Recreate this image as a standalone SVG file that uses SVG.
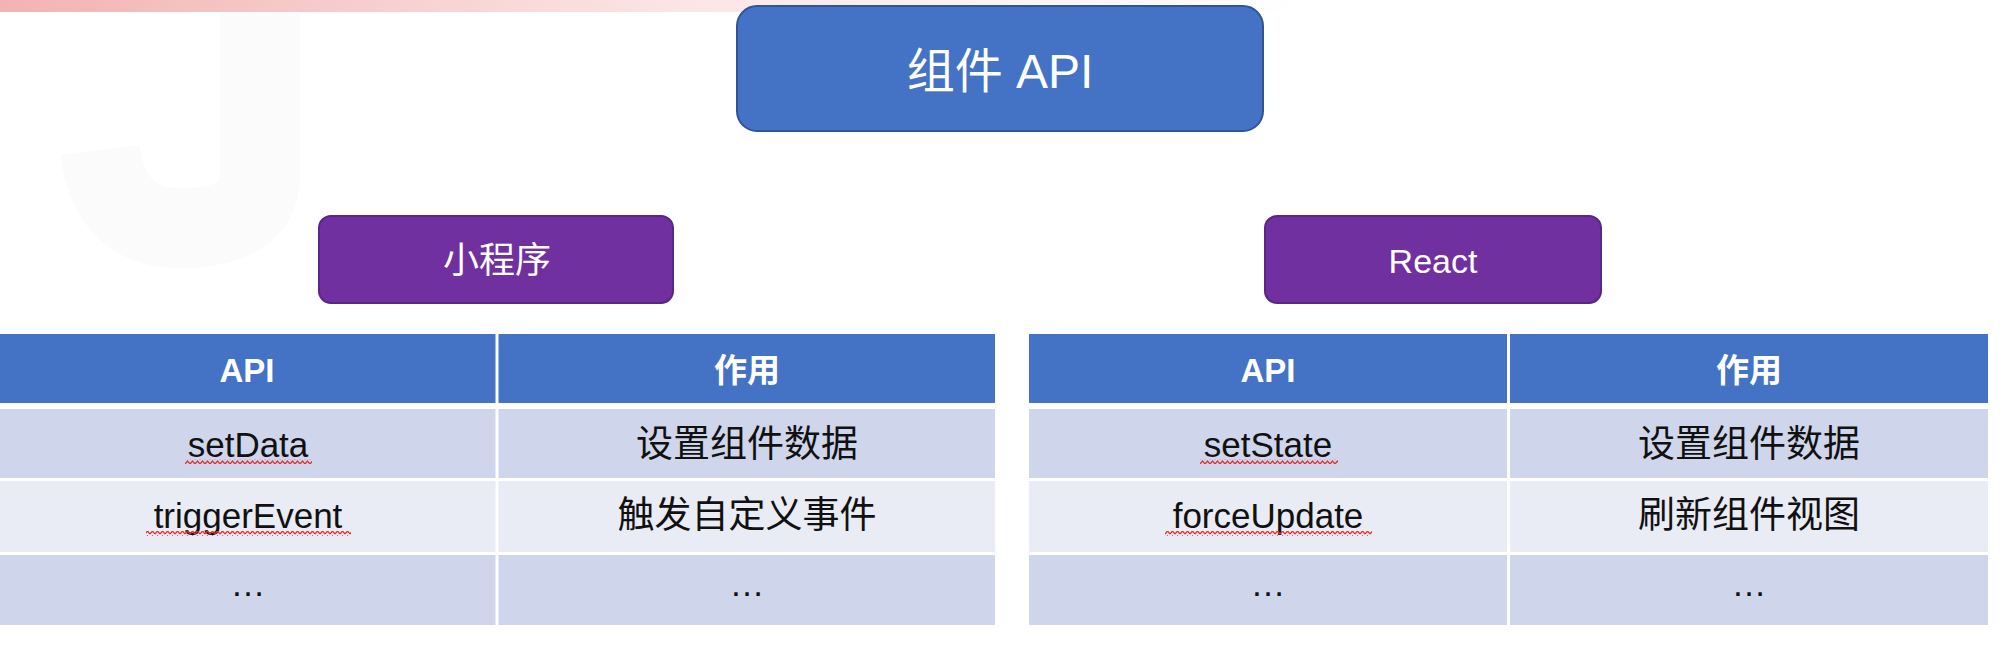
<svg xmlns="http://www.w3.org/2000/svg" width="2010" height="654" viewBox="0 0 2010 654">
<style>
.t{font-family:"Liberation Sans","Noto Sans CJK SC",sans-serif;text-anchor:middle}
.w{fill:#ffffff}
.k{fill:#111111}
.hd{font-size:33px;font-weight:bold;fill:#ffffff}
.lat{font-size:35px}
.cjk{font-size:37px}
.hdr{fill:#4472C4}
.r1{fill:#CFD5EA}
.r2{fill:#E9EBF5}
.sep{fill:#ffffff}
</style>
<defs>
<linearGradient id="band" x1="0" y1="0" x2="1" y2="0">
<stop offset="0" stop-color="#F2B3B3"/>
<stop offset="0.5" stop-color="#FBE3E3"/>
<stop offset="1" stop-color="#ffffff"/>
</linearGradient>
<pattern id="squiggle" width="5" height="5" patternUnits="userSpaceOnUse">
<path d="M0 4 L2.5 1 L5 4" fill="none" stroke="#E03030" stroke-width="1.2"/>
</pattern>
</defs>
<rect width="2010" height="654" fill="#ffffff"/>
<rect x="0" y="0" width="1300" height="12" fill="url(#band)"/>
<path d="M260 14 V175 Q260 228 180 228 Q110 228 100 150" fill="none" stroke="#FBFBFB" stroke-width="80"/>

<g id="title">
<rect x="737" y="6" width="526" height="125" rx="20" fill="#4472C4" stroke="#2F5597" stroke-width="2"/>
<text class="t w" x="1000" y="88" font-size="48">组件 API</text>
</g>

<g id="miniprogram">
<rect x="319" y="216" width="354" height="87" rx="12" fill="#7030A0" stroke="#5B2585" stroke-width="2"/>
<text class="t w" x="497" y="273" font-size="36">小程序</text>
</g>

<g id="react">
<rect x="1265" y="216" width="336" height="87" rx="12" fill="#7030A0" stroke="#5B2585" stroke-width="2"/>
<text class="t w" x="1433" y="273" font-size="34">React</text>
</g>

<g id="table-miniprogram">
<rect class="hdr" x="0" y="334" width="995" height="69"/>
<rect class="r1" x="0" y="409" width="995" height="69"/>
<rect class="r2" x="0" y="481" width="995" height="71"/>
<rect class="r1" x="0" y="555" width="995" height="70"/>
<rect class="sep" x="495.5" y="334" width="3" height="291"/>
<text class="t hd" x="247" y="382">API</text>
<text class="t hd" x="747" y="382">作用</text>
<text class="t k lat" x="248" y="457">setData</text>
<text class="t k cjk" x="747" y="457">设置组件数据</text>
<text class="t k lat" x="248" y="528">triggerEvent</text>
<text class="t k cjk" x="747" y="528">触发自定义事件</text>
<text class="t k lat" x="248" y="596">…</text>
<text class="t k lat" x="747" y="596">…</text>
<rect x="185" y="459" width="127" height="5" fill="url(#squiggle)"/>
<rect x="146" y="531" width="205" height="5" fill="url(#squiggle)"/>
</g>

<g id="table-react">
<rect class="hdr" x="1029" y="334" width="959" height="69"/>
<rect class="r1" x="1029" y="409" width="959" height="69"/>
<rect class="r2" x="1029" y="481" width="959" height="71"/>
<rect class="r1" x="1029" y="555" width="959" height="70"/>
<rect class="sep" x="1507" y="334" width="3" height="291"/>
<text class="t hd" x="1268" y="382">API</text>
<text class="t hd" x="1749" y="382">作用</text>
<text class="t k lat" x="1268" y="457">setState</text>
<text class="t k cjk" x="1749" y="457">设置组件数据</text>
<text class="t k lat" x="1268" y="528">forceUpdate</text>
<text class="t k cjk" x="1749" y="528">刷新组件视图</text>
<text class="t k lat" x="1268" y="596">…</text>
<text class="t k lat" x="1749" y="596">…</text>
<rect x="1200" y="459" width="138" height="5" fill="url(#squiggle)"/>
<rect x="1165" y="531" width="207" height="5" fill="url(#squiggle)"/>
</g>

<g id="connectors"></g>
</svg>
